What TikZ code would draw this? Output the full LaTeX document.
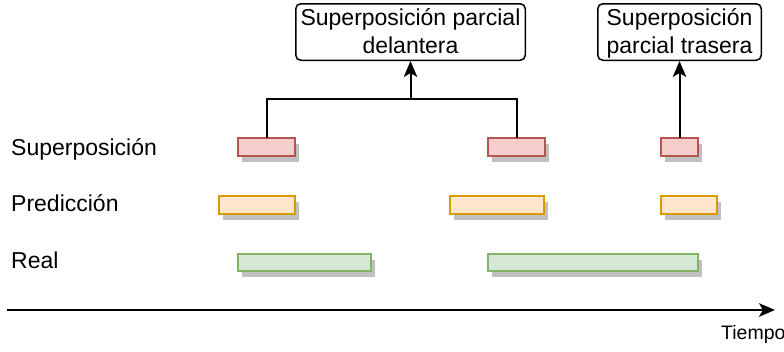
\documentclass[tikz,border=0pt]{standalone}
\usepackage{fontspec}
\setmainfont{Liberation Sans}
\usetikzlibrary{arrows.meta,shadows}

\definecolor{redfill}{HTML}{F8CECC}
\definecolor{redline}{HTML}{B85450}
\definecolor{orangefill}{HTML}{FFE6CC}
\definecolor{orangeline}{HTML}{D79B00}
\definecolor{greenfill}{HTML}{D5E8D4}
\definecolor{greenline}{HTML}{82B366}
\definecolor{shadowgray}{HTML}{C0C0C0}

% line strut: height 21pt, depth 7pt
\newcommand\linestrut{\rule[-7pt]{0pt}{28pt}}

\tikzset{
  bar/.style={rectangle, inner sep=0pt, outer sep=0pt, line width=1.9pt,
    drop shadow={shadow xshift=3.5pt, shadow yshift=-6pt, opacity=1, fill=shadowgray}},
  redbar/.style={bar, draw=redline, fill=redfill, minimum height=18pt},
  orangebar/.style={bar, draw=orangeline, fill=orangefill, minimum height=18pt},
  greenbar/.style={bar, draw=greenline, fill=greenfill, minimum height=17pt},
  callout/.style={rectangle, rounded corners=5pt, draw=black, line width=1.5pt,
    fill=white, inner sep=0pt, minimum height=56.5pt, align=center,
    font=\fontsize{23}{28}\selectfont},
  rowlabel/.style={anchor=base west, inner sep=0pt, font=\fontsize{23}{28}\selectfont},
  link/.style={line width=2pt, draw=black},
  arr/.style={link, -{Stealth[length=16pt, width=13.5pt, inset=4pt]}},
}

\begin{document}
\begin{tikzpicture}[x=1pt, y=-1pt]
  \useasboundingbox (0,0) rectangle (784,351);

  % row labels
  \node[rowlabel] (lsup)  at (11,155.5) {Superposición};
  \node[rowlabel] (lpred) at (11,211.5) {Predicción};
  \node[rowlabel] (lreal) at (11,268.5) {Real};

  % real intervals
  \node[greenbar, minimum width=133pt] (g1) at (304.5,262.5) {};
  \node[greenbar, minimum width=210pt] (g2) at (593,262.5) {};

  % predicted intervals
  \node[orangebar, minimum width=76pt] (o1) at (257,205) {};
  \node[orangebar, minimum width=94pt] (o2) at (497,205) {};
  \node[orangebar, minimum width=56pt] (o3) at (689,205) {};

  % overlaps
  \node[redbar, minimum width=57pt] (r1) at (266.5,147) {};
  \node[redbar, minimum width=57pt] (r2) at (516.5,147) {};
  \node[redbar, minimum width=37pt] (r3) at (679.5,147) {};

  % callouts
  \node[callout, minimum width=229.5pt] (b1) at (410.5,32)
    {\linestrut Superposición parcial\\\linestrut delantera};
  \node[callout, minimum width=163.5pt] (b2) at (679.5,32)
    {\linestrut Superposición\\\linestrut parcial trasera};

  % connectors
  \coordinate (j) at (410.5,99);
  \draw[link] (r1.north) |- (j) -| (r2.north);
  \draw[arr] (j) -- (b1.south);
  \draw[arr] (r3.north) -- (b2.south);

  % time axis
  \coordinate (t0) at (7,310);
  \coordinate (t1) at (775,310);
  \draw[arr] (t0) -- (t1);
  \node[anchor=base west, inner sep=0pt, font=\fontsize{19.5}{23}\selectfont]
    (tl) at (721,339.5) {Tiempo};
\end{tikzpicture}
\end{document}
